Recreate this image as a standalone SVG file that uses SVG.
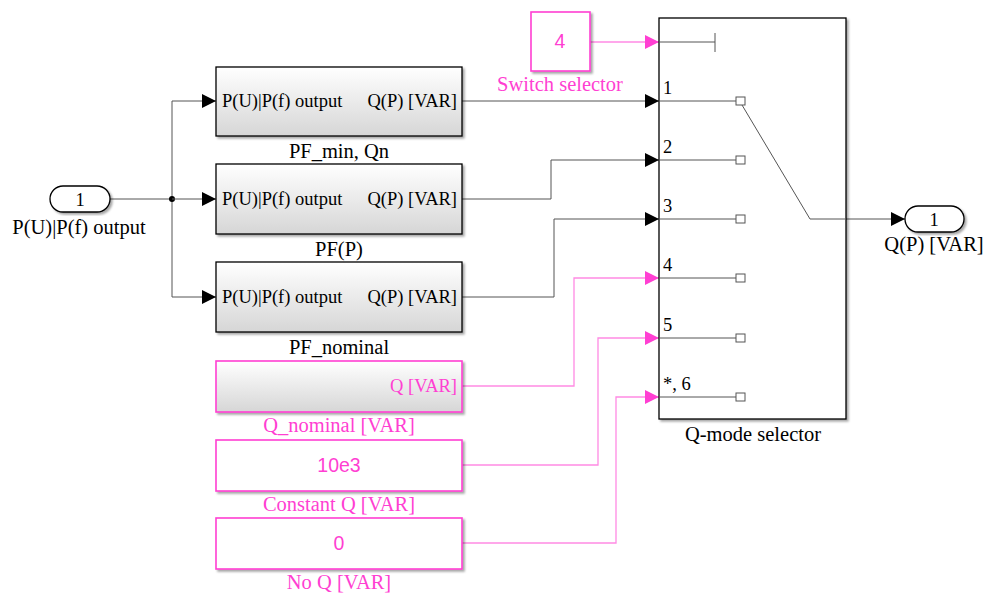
<svg xmlns="http://www.w3.org/2000/svg" width="984" height="593" viewBox="0 0 984 593">
  <defs>
    <linearGradient id="subsysFill" x1="0" y1="0" x2="0" y2="1">
      <stop offset="0" stop-color="#ffffff"/>
      <stop offset="1" stop-color="#d6d6d6"/>
    </linearGradient>
    <filter id="shadow" x="-5%" y="-5%" width="115%" height="120%">
      <feDropShadow dx="2" dy="2" stdDeviation="1" flood-color="#000" flood-opacity="0.35"/>
    </filter>
    <marker id="arrowBlack" viewBox="0 0 10 10" refX="10" refY="5" markerWidth="14" markerHeight="14" markerUnits="userSpaceOnUse" orient="auto">
      <path d="M0,0 L10,5 L0,10 Z" fill="#000"/>
    </marker>
    <marker id="arrowPink" viewBox="0 0 10 10" refX="10" refY="5" markerWidth="14" markerHeight="14" markerUnits="userSpaceOnUse" orient="auto">
      <path d="M0,0 L10,5 L0,10 Z" fill="#ff3fd2"/>
    </marker>
  </defs>
  <style>
    .serif { font-family: "Liberation Serif", "DejaVu Serif", serif; }
    .sans { font-family: "Liberation Sans", Arial, sans-serif; }
    .blk { fill: url(#subsysFill); stroke: #000; stroke-width: 1.3; filter: url(#shadow); }
    .pblk { fill: #fff; stroke: #ff3fd2; stroke-width: 1.6; filter: url(#shadow); }
    .pblkg { fill: url(#subsysFill); stroke: #ff3fd2; stroke-width: 1.6; filter: url(#shadow); }
    .port { fill: #fff; stroke: #000; stroke-width: 1.3; filter: url(#shadow); }
    .txt { font-size: 18.5px; fill: #000; }
    .cap { font-size: 20.5px; fill: #000; }
    .ptxt { font-size: 18.5px; fill: #ff3fd2; }
    .pnum { font-size: 19.5px; fill: #ff3fd2; }
    .pcap { font-size: 20.5px; fill: #ff3fd2; }
    .wire { fill: none; stroke: #555; stroke-width: 1; }
    .pwire { fill: none; stroke: #ff8ae4; stroke-width: 1.3; }
    .inner { fill: none; stroke: #555; stroke-width: 1; }
    .contact { fill: #fff; stroke: #555; stroke-width: 1; }
  </style>

  <!-- connectors -->
  <g id="connectors">
    <polyline class="wire" points="110,199 172,199"/>
    <polyline class="wire" points="172,101 172,297"/>
    <circle cx="172" cy="199" r="3" fill="#000"/>
    <polyline class="wire" points="172,101 216,101" marker-end="url(#arrowBlack)"/>
    <polyline class="wire" points="172,199 216,199" marker-end="url(#arrowBlack)"/>
    <polyline class="wire" points="172,297 216,297" marker-end="url(#arrowBlack)"/>
    <polyline class="wire" points="462,101 659,101" marker-end="url(#arrowBlack)"/>
    <polyline class="wire" points="462,199 551,199 551,160 659,160" marker-end="url(#arrowBlack)"/>
    <polyline class="wire" points="462,297 554,297 554,219 659,219" marker-end="url(#arrowBlack)"/>
    <polyline class="pwire" points="462,386 574,386 574,278 659,278" marker-end="url(#arrowPink)"/>
    <polyline class="pwire" points="462,465 598,465 598,338 659,338" marker-end="url(#arrowPink)"/>
    <polyline class="pwire" points="462,543 616,543 616,397 659,397" marker-end="url(#arrowPink)"/>
    <polyline class="pwire" points="590,42 659,42" marker-end="url(#arrowPink)"/>
    <polyline class="wire" points="846,219 905,219" marker-end="url(#arrowBlack)"/>
  </g>

  <!-- input port -->
  <g id="inport">
    <rect class="port" x="50" y="186" width="60" height="26" rx="13" ry="13"/>
    <text class="serif txt" x="80" y="206" text-anchor="middle">1</text>
    <text class="serif cap" x="79" y="234" text-anchor="middle">P(U)|P(f) output</text>
  </g>

  <!-- Q(P) subsystems -->
  <g id="pf_min_qn">
    <rect class="blk" x="216" y="67" width="246" height="69"/>
    <text class="serif txt" x="222" y="107">P(U)|P(f) output</text>
    <text class="serif txt" x="457" y="107" text-anchor="end">Q(P) [VAR]</text>
    <text class="serif cap" x="339" y="158" text-anchor="middle">PF_min, Qn</text>
  </g>
  <g id="pf_p">
    <rect class="blk" x="216" y="164" width="246" height="70"/>
    <text class="serif txt" x="222" y="205">P(U)|P(f) output</text>
    <text class="serif txt" x="457" y="205" text-anchor="end">Q(P) [VAR]</text>
    <text class="serif cap" x="339" y="256" text-anchor="middle">PF(P)</text>
  </g>
  <g id="pf_nominal">
    <rect class="blk" x="216" y="262" width="246" height="70"/>
    <text class="serif txt" x="222" y="303">P(U)|P(f) output</text>
    <text class="serif txt" x="457" y="303" text-anchor="end">Q(P) [VAR]</text>
    <text class="serif cap" x="339" y="354" text-anchor="middle">PF_nominal</text>
  </g>

  <!-- constant sources -->
  <g id="q_nominal">
    <rect class="pblkg" x="216" y="361" width="246" height="51"/>
    <text class="serif ptxt" x="457" y="392" text-anchor="end">Q [VAR]</text>
    <text class="serif pcap" x="339" y="432" text-anchor="middle">Q_nominal [VAR]</text>
  </g>
  <g id="constant_q">
    <rect class="pblk" x="216" y="440" width="246" height="51"/>
    <text class="sans pnum" x="339" y="472" text-anchor="middle">10e3</text>
    <text class="serif pcap" x="339" y="511" text-anchor="middle">Constant Q [VAR]</text>
  </g>
  <g id="no_q">
    <rect class="pblk" x="216" y="518" width="246" height="51"/>
    <text class="sans pnum" x="339" y="550" text-anchor="middle">0</text>
    <text class="serif pcap" x="339" y="589" text-anchor="middle">No Q [VAR]</text>
  </g>

  <!-- switch selector constant -->
  <g id="switch_selector">
    <rect class="pblk" x="531" y="12" width="59" height="59"/>
    <text class="sans pnum" x="560" y="48" text-anchor="middle">4</text>
    <text class="serif pcap" x="560" y="91" text-anchor="middle">Switch selector</text>
  </g>

  <!-- multiport switch -->
  <g id="q_mode_selector">
    <rect x="659" y="18" width="187" height="401" fill="#fff" stroke="#000" stroke-width="1.3" filter="url(#shadow)"/>
    <polyline class="inner" points="659,42 715,42"/>
    <polyline class="inner" points="715,33 715,52"/>
    <polyline class="inner" points="659,101 736,101"/>
    <polyline class="inner" points="659,160 736,160"/>
    <polyline class="inner" points="659,219 736,219"/>
    <polyline class="inner" points="659,278 736,278"/>
    <polyline class="inner" points="659,338 736,338"/>
    <polyline class="inner" points="659,397 736,397"/>
    <rect class="contact" x="736" y="97" width="9" height="8"/>
    <rect class="contact" x="736" y="156" width="9" height="8"/>
    <rect class="contact" x="736" y="215" width="9" height="8"/>
    <rect class="contact" x="736" y="274" width="9" height="8"/>
    <rect class="contact" x="736" y="334" width="9" height="8"/>
    <rect class="contact" x="736" y="393" width="9" height="8"/>
    <polyline class="inner" points="742,105 810,219 846,219"/>
    <text class="serif txt" x="663" y="94">1</text>
    <text class="serif txt" x="663" y="153">2</text>
    <text class="serif txt" x="663" y="212">3</text>
    <text class="serif txt" x="663" y="271">4</text>
    <text class="serif txt" x="663" y="331">5</text>
    <text class="serif txt" x="663" y="390">*, 6</text>
    <text class="serif cap" x="753" y="441" text-anchor="middle">Q-mode selector</text>
  </g>

  <!-- output port -->
  <g id="outport">
    <rect class="port" x="905" y="206" width="59" height="26" rx="13" ry="13"/>
    <text class="serif txt" x="934" y="226" text-anchor="middle">1</text>
    <text class="serif cap" x="934" y="251" text-anchor="middle">Q(P) [VAR]</text>
  </g>
</svg>
